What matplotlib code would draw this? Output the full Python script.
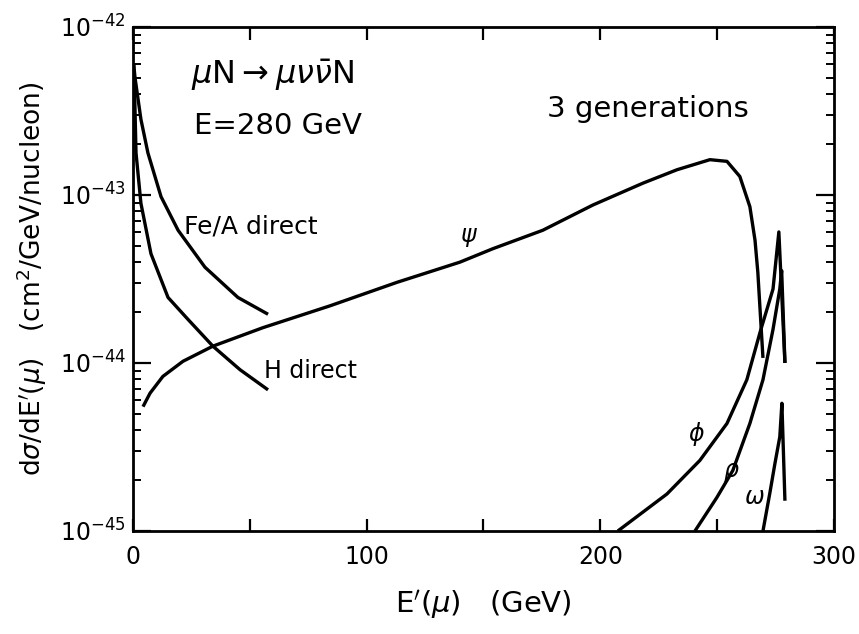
import numpy as np
import matplotlib.pyplot as plt
from matplotlib.ticker import FixedLocator, NullFormatter

plt.rcParams['font.family'] = ['DejaVu Sans']
plt.rcParams['mathtext.fontset'] = 'dejavusans'

# curves: E' in GeV, log10 of dsigma/dE'
psi_E = [4.3, 7.3, 12.8, 21.4, 34.2, 55.6, 84.3, 113.0, 139.9, 154.0,
         175.4, 196.8, 218.2, 232.8, 246.9, 254.2, 259.7, 264.0, 266.2,
         267.4, 269.6]
psi_log = [-44.26, -44.18, -44.08, -43.99, -43.90, -43.79, -43.66, -43.52,
           -43.40, -43.32, -43.21, -43.06, -42.93, -42.85, -42.79, -42.80,
           -42.89, -43.07, -43.27, -43.46, -43.97]

fe_E = [0.3, 0.86, 3.4, 6.4, 12.0, 19.3, 30.8, 44.9, 57.8]
fe_log = [-42.22, -42.30, -42.55, -42.75, -43.01, -43.21, -43.43, -43.61, -43.71]

h_E = [0.3, 0.8, 1.3, 3.4, 7.7, 15.0, 23.5, 34.2, 45.8, 57.8]
h_log = [-42.22, -42.45, -42.75, -43.05, -43.35, -43.61, -43.74, -43.90, -44.04, -44.16]

phi_E = [207.5, 228.5, 242.6, 254.2, 262.7, 268.3, 273.9, 276.4, 279.0]
phi_log = [-45.0, -44.78, -44.58, -44.36, -44.10, -43.82, -43.56, -43.22, -44.0]

rho_E = [240.5, 249.9, 256.7, 264.0, 269.6, 273.9, 276.8, 277.6, 279.0]
rho_log = [-45.0, -44.80, -44.64, -44.36, -44.10, -43.80, -43.56, -43.45, -44.0]

omega_E = [269.6, 272.6, 274.7, 276.8, 277.7, 279.0]
omega_log = [-45.0, -44.77, -44.60, -44.44, -44.24, -44.82]

x_ticks = [0, 50, 100, 150, 200, 250, 300]
x_labels = ['0', '', '100', '', '200', '', '300']
y_decades = [-45, -44, -43, -42]

curves = [(psi_E, psi_log), (fe_E, fe_log), (h_E, h_log),
          (phi_E, phi_log), (rho_E, rho_log), (omega_E, omega_log)]

fig = plt.figure(figsize=(8.59, 6.34), dpi=100)
ax = fig.add_axes([0.1548, 0.1625, 0.8161, 0.795])

for xs, ls in curves:
    ax.plot(xs, 10.0 ** np.array(ls), color='black', lw=2.4,
            solid_capstyle='butt', solid_joinstyle='round')

ax.set_yscale('log')
ax.set_xlim(0, 300)
ax.set_ylim(1e-45, 1e-42)

ax.set_xticks(x_ticks)
ax.set_xticklabels(x_labels)
ax.yaxis.set_major_locator(FixedLocator([10.0 ** d for d in y_decades]))
ax.set_yticklabels([r'$\mathdefault{10^{%d}}$' % d for d in y_decades])
minor = [m * 10.0 ** d for d in y_decades[:-1] for m in range(2, 10)]
ax.yaxis.set_minor_locator(FixedLocator(minor))
ax.yaxis.set_minor_formatter(NullFormatter())

ax.tick_params(axis='x', which='major', direction='in', top=True, bottom=True,
               length=9, width=1.6, labelsize=17, pad=10)
ax.tick_params(axis='y', which='major', direction='in', left=True, right=True,
               length=13, width=1.6, labelsize=17, pad=5)
ax.tick_params(axis='y', which='minor', direction='in', left=True, right=True,
               length=6, width=1.4)
for s in ax.spines.values():
    s.set_linewidth(2.0)

ax.set_xlabel(r"E$'(\mu)$   (GeV)", fontsize=21, labelpad=14)
ax.set_ylabel(r"d$\sigma$/dE$'(\mu)$   (cm$^2$/GeV/nucleon)", fontsize=19, labelpad=8)

ax.text(25, 10 ** -42.29, r"$\mu$N$\rightarrow\mu\nu\bar{\nu}$N", fontsize=23, va='center')
ax.text(26, 10 ** -42.59, "E=280 GeV", fontsize=21, va='center')
ax.text(177, 10 ** -42.49, "3 generations", fontsize=21, va='center')
ax.text(22, 10 ** -43.19, "Fe/A direct", fontsize=18, va='center')
ax.text(56, 10 ** -44.05, "H direct", fontsize=17, va='center')
ax.text(144, 10 ** -43.25, r"$\psi$", fontsize=17, va='center', ha='center')
ax.text(241, 10 ** -44.42, r"$\phi$", fontsize=17, va='center', ha='center')
ax.text(256, 10 ** -44.65, r"$\rho$", fontsize=17, va='center', ha='center')
ax.text(266, 10 ** -44.80, r"$\omega$", fontsize=17, va='center', ha='center')

fig.savefig('out.png', dpi=100)
